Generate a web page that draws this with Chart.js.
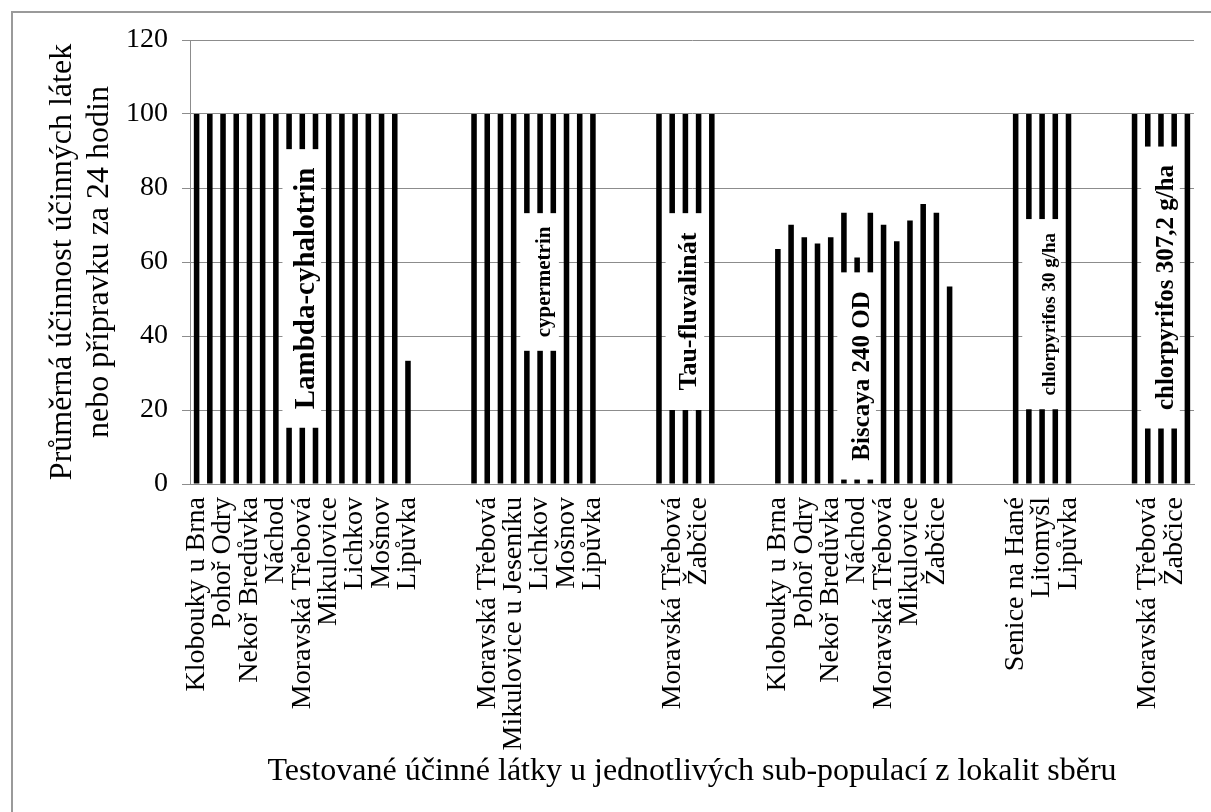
<!DOCTYPE html>
<html>
<head>
<meta charset="utf-8">
<script src="https://cdn.jsdelivr.net/npm/chart.js@4.4.1/dist/chart.umd.min.js"></script>
<style>
  html, body { margin: 0; padding: 0; background: #fff; }
  #wrap { width: 1211px; height: 812px; position: relative; }
</style>
</head>
<body>
<div id="wrap"><canvas id="chart"></canvas></div>
<script>
// sub-populace po skupinach (kazdy druhy sloupec bez popisku, jako v puvodnim grafu)
const lambdaSites = ['Klobouky u Brna', '', 'Pohoř Odry', '', 'Nekoř Bredůvka', '', 'Náchod', '', 'Moravská Třebová', '', 'Mikulovice', '', 'Lichkov', '', 'Mošnov', '', 'Lipůvka']
const lambdaValues = [100, 100, 100, 100, 100, 100, 100, 100, 100, 100, 100, 100, 100, 100, 100, 100, 33.3]

const cyperSites = ['', 'Moravská Třebová', '', 'Mikulovice u Jeseníku', '', 'Lichkov', '', 'Mošnov', '', 'Lipůvka']
const cyperValues = [100, 100, 100, 100, 100, 100, 100, 100, 100, 100]

const tauSites = ['', 'Moravská Třebová', '', 'Žabčice', '']
const tauValues = [100, 100, 100, 100, 100]

const biscayaSites = ['Klobouky u Brna', '', 'Pohoř Odry', '', 'Nekoř Bredůvka', '', 'Náchod', '', 'Moravská Třebová', '', 'Mikulovice', '', 'Žabčice', '']
const biscayaValues = [63.5, 70.1, 66.7, 65.0, 66.7, 73.3, 61.2, 73.3, 70.1, 65.6, 71.2, 75.7, 73.3, 53.4]

const chlor30Sites = ['Senice na Hané', '', 'Litomyšl', '', 'Lipůvka']
const chlor30Values = [100, 100, 100, 100, 100]

const chlor307Sites = ['', 'Moravská Třebová', '', 'Žabčice', '']
const chlor307Values = [100, 100, 100, 100, 100]

const substances = ['Lambda-cyhalotrin', 'cypermetrin', 'Tau-fluvalinát', 'Biscaya 240 OD', 'chlorpyrifos 30 g/ha', 'chlorpyrifos 307,2 g/ha']
const yTicks = [0, 20, 40, 60, 80, 100, 120]

const groups = [
  [lambdaSites, lambdaValues],
  [cyperSites, cyperValues],
  [tauSites, tauValues],
  [biscayaSites, biscayaValues],
  [chlor30Sites, chlor30Values],
  [chlor307Sites, chlor307Values]
]

// slozeni os - mezi skupinami 4 prazdne kategorie
const labels = []
const values = []
groups.forEach((g, i) => {
  if (i > 0) {
    for (let k = 0; k < 4; k++) { labels.push(''); values.push(null) }
  }
  g[0].forEach((s, j) => { labels.push(s); values.push(g[1][j]) })
})

// bile ramecky s nazvy latek (index kategorie od-do, rozsah hodnot)
const boxes = [
  {text: substances[0], from: 7, to: 9, top: 90.5, bottom: 15.2, size: 29, dx: 5},
  {text: substances[1], from: 25, to: 27, top: 73.2, bottom: 36, size: 21, dx: 5},
  {text: substances[2], from: 36, to: 38, top: 73.2, bottom: 20, size: 26, dx: 4},
  {text: substances[3], from: 49, to: 51, top: 57.2, bottom: 1.2, size: 25, dx: 6},
  {text: substances[4], from: 63, to: 65, top: 71.6, bottom: 20.2, size: 19, dx: 9},
  {text: substances[5], from: 72, to: 74, top: 91.2, bottom: 15, size: 25, dx: 6}
]

const serif = "'Liberation Serif', 'Times New Roman', serif"
const gray = '#8c8c8c'

const boxPlugin = {
  id: 'boxes',
  beforeDraw: (chart) => {
    const ctx = chart.ctx
    ctx.save()
    ctx.strokeStyle = '#9a9a9a'
    ctx.lineWidth = 2
    ctx.beginPath()
    ctx.moveTo(12, 812)
    ctx.lineTo(12, 12)
    ctx.lineTo(1211, 12)
    ctx.stroke()
    ctx.restore()
  },
  afterDatasetsDraw: (chart) => {
    const ctx = chart.ctx
    const x = chart.scales.x
    const y = chart.scales.y
    const slot = x.getPixelForValue(1) - x.getPixelForValue(0)
    boxes.forEach(b => {
      const x0 = x.getPixelForValue(b.from) - slot / 2
      const x1 = x.getPixelForValue(b.to) + slot / 2 - 1
      const y0 = y.getPixelForValue(b.top)
      const y1 = y.getPixelForValue(b.bottom)
      ctx.save()
      ctx.fillStyle = '#fff'
      ctx.fillRect(x0, y0, x1 - x0, y1 - y0)
      ctx.translate((x0 + x1) / 2 + b.dx, (y0 + y1) / 2)
      ctx.rotate(-Math.PI / 2)
      ctx.fillStyle = '#000'
      ctx.font = 'bold ' + b.size + 'px ' + serif
      ctx.textAlign = 'center'
      ctx.textBaseline = 'middle'
      ctx.fillText(b.text, 0, 0)
      ctx.restore()
    })
  }
}

const ctx = document.getElementById('chart').getContext('2d')
new Chart(ctx, {
  type: 'bar',
  data: {
    labels: labels,
    datasets: [{
      data: values,
      backgroundColor: '#000',
      barPercentage: 0.42,
      categoryPercentage: 1
    }]
  },
  options: {
    responsive: true,
    maintainAspectRatio: false,
    animation: false,
    layout: {padding: {top: 40, right: 17, left: 0, bottom: 0}},
    plugins: {legend: {display: false}, tooltip: {enabled: false}},
    scales: {
      x: {
        grid: {display: false, drawTicks: false},
        border: {display: true, color: gray, width: 1},
        ticks: {
          autoSkip: false,
          maxRotation: 90,
          minRotation: 90,
          padding: 13,
          color: '#000',
          font: {family: serif, size: 28}
        },
        title: {
          display: true,
          text: 'Testované účinné látky u jednotlivých sub-populací z lokalit sběru',
          color: '#000',
          font: {family: serif, size: 32, lineHeight: 1.2},
          padding: {top: 0, bottom: 21}
        },
        afterFit: (scale) => {
          scale.height = 328
          scale.paddingLeft = 0
          scale.paddingRight = 0
        }
      },
      y: {
        min: 0,
        max: 120,
        afterBuildTicks: (scale) => { scale.ticks = yTicks.map(v => ({value: v})) },
        grid: {color: gray, tickLength: 8, lineWidth: 1},
        border: {display: true, color: gray, width: 1},
        ticks: {
          padding: 14,
          color: '#000',
          font: {family: serif, size: 28}
        },
        title: {
          display: true,
          text: ['Průměrná účinnost účinných látek', 'nebo přípravku za 24 hodin'],
          color: '#000',
          font: {family: serif, size: 32, lineHeight: 1.16},
          padding: {top: 44, bottom: 0}
        },
        afterFit: (scale) => {
          scale.width = 190
          scale.paddingTop = 0
          scale.paddingBottom = 0
        }
      }
    }
  },
  plugins: [boxPlugin]
})
</script>
</body>
</html>
